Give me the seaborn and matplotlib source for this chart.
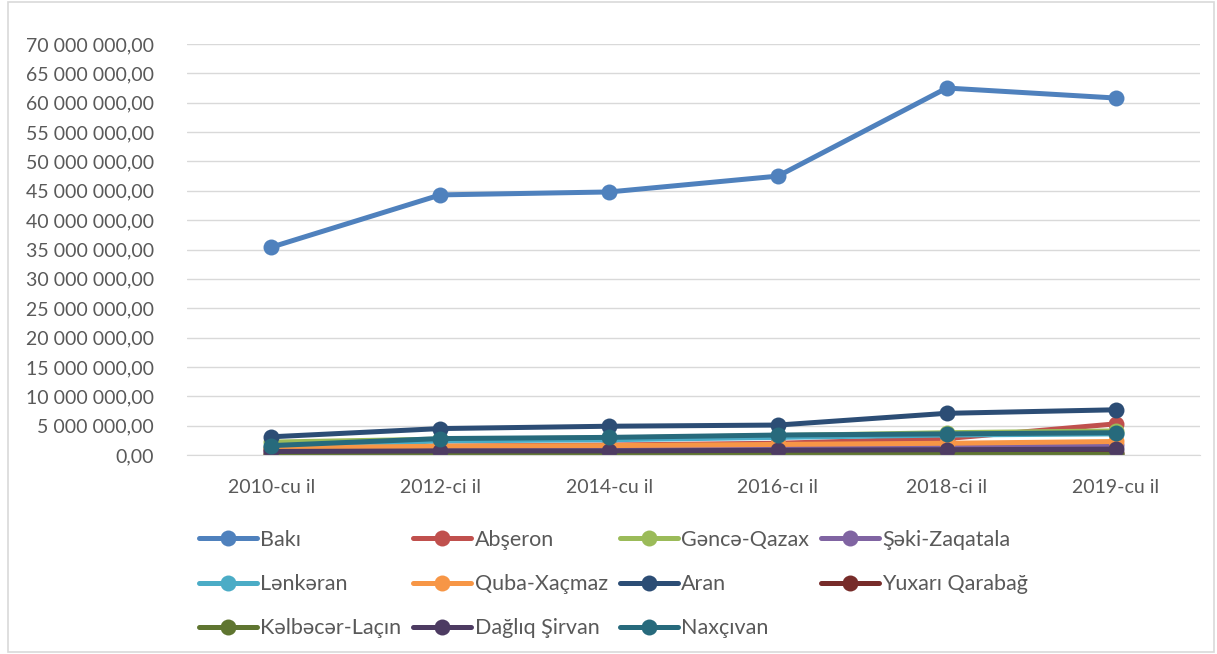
import matplotlib.pyplot as plt
import matplotlib.ticker as mticker
import seaborn as sns
import pandas as pd
from matplotlib.patches import Rectangle

# data (in manat)
years = ['2010-cu il', '2012-ci il', '2014-cu il', '2016-cı il', '2018-ci il', '2019-cu il']
baki = [35.4e6, 44.3e6, 44.8e6, 47.5e6, 62.5e6, 60.8e6]
abseron = [1.0e6, 1.5e6, 1.7e6, 2.0e6, 2.8e6, 5.3e6]
gence = [2.2e6, 2.7e6, 2.9e6, 3.3e6, 3.8e6, 4.1e6]
seki = [0.9e6, 1.1e6, 1.2e6, 1.3e6, 1.5e6, 1.7e6]
lenkeran = [1.3e6, 2.4e6, 2.6e6, 3.0e6, 3.4e6, 3.6e6]
quba = [1.2e6, 1.5e6, 1.6e6, 1.8e6, 2.0e6, 2.3e6]
aran = [3.1e6, 4.5e6, 4.9e6, 5.1e6, 7.1e6, 7.7e6]
yuxari = [0.2e6, 0.3e6, 0.3e6, 0.3e6, 0.4e6, 0.4e6]
kelbecer = [0.05e6, 0.1e6, 0.1e6, 0.1e6, 0.1e6, 0.1e6]
dagliq = [0.6e6, 0.7e6, 0.7e6, 0.8e6, 0.9e6, 1.0e6]
naxcivan = [1.6e6, 2.8e6, 3.0e6, 3.4e6, 3.6e6, 3.8e6]

regions = ['Bakı', 'Abşeron', 'Gəncə-Qazax', 'Şəki-Zaqatala', 'Lənkəran', 'Quba-Xaçmaz',
           'Aran', 'Yuxarı Qarabağ', 'Kəlbəcər-Laçın', 'Dağlıq Şirvan', 'Naxçıvan']
series = [baki, abseron, gence, seki, lenkeran, quba, aran, yuxari, kelbecer, dagliq, naxcivan]
colors = ['#4F81BD', '#C0504D', '#9BBB59', '#8064A2', '#4BACC6', '#F79646',
          '#2C4D75', '#772C2A', '#5F7530', '#4D3B62', '#276A7C']

sns.set_style('white')
plt.rcParams['font.family'] = ['Lato', 'DejaVu Sans']

fig = plt.figure(figsize=(12.17, 6.54), dpi=100)
ax = fig.add_axes([187 / 1217, 199 / 654, 1013 / 1217, 411 / 654])

for name, vals, col in zip(regions, series, colors):
    df = pd.DataFrame({'il': years, 'dəyər': vals})
    sns.lineplot(data=df, x='il', y='dəyər', ax=ax, color=col, linewidth=3.6,
                 marker='o', markersize=11.5, markeredgewidth=0, label=name, sort=False)

ax.set_xlim(-0.5, 5.5)
ax.set_ylim(0, 70e6)
ax.yaxis.set_major_locator(mticker.MultipleLocator(5e6))
ax.yaxis.set_major_formatter(mticker.FuncFormatter(
    lambda v, p: f"{v:,.2f}".replace(',', ' ').replace('.', ',')))
ax.set_xlabel('')
ax.set_ylabel('')
ax.grid(axis='y', color='#D9D9D9', linewidth=1)
ax.set_axisbelow(True)
for s in ['top', 'right', 'left']:
    ax.spines[s].set_visible(False)
ax.spines['bottom'].set_color('#D9D9D9')
ax.tick_params(axis='y', length=0, pad=24, labelsize=14, labelcolor='#595959')
ax.tick_params(axis='x', length=0, pad=17, labelsize=14, labelcolor='#595959')

# legend, row-major order like the original
handles, labels = ax.get_legend_handles_labels()
order = [0, 4, 8, 1, 5, 9, 2, 6, 10, 3, 7]
ax.legend([handles[i] for i in order], [labels[i] for i in order],
          ncol=4, loc='upper left', bbox_to_anchor=(199 / 1217, 1 - 530 / 654),
          bbox_transform=fig.transFigure, frameon=False, fontsize=15.5,
          handlelength=2.7, handletextpad=0.15, columnspacing=0.55,
          labelspacing=1.12, borderpad=0, borderaxespad=0, labelcolor='#595959')

fig.patches.append(Rectangle((8 / 1217, 2 / 654), 1206 / 1217, 650 / 654,
                             transform=fig.transFigure, fill=False,
                             edgecolor='#D9D9D9', linewidth=1.2))

fig.savefig('out.png', dpi=100)
